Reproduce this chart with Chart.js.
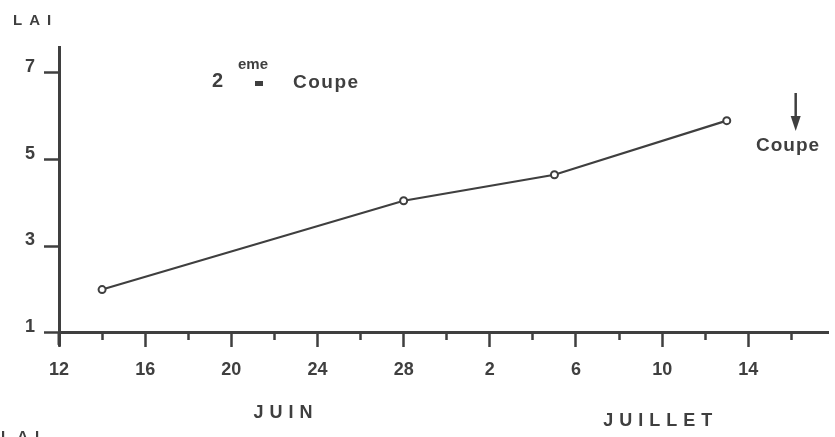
<!DOCTYPE html>
<html>
<head>
<meta charset="utf-8">
<script src="https://cdn.jsdelivr.net/npm/chart.js@4.4.0/dist/chart.umd.min.js"></script>
<style>
  html, body { margin: 0; padding: 0; background: #fff; }
</style>
</head>
<body>
<canvas id="laiChart" width="835" height="437"></canvas>
<script>
// x values are days counted from 12 June
const sampleDays = [2, 16, 23, 31];
const laiValues = [2.0, 4.05, 4.65, 5.9];
const xMajorDays = [0, 4, 8, 12, 16, 20, 24, 28, 32];
const xMajorLabels = ['12', '16', '20', '24', '28', '2', '6', '10', '14'];
const xMinorDays = [2, 6, 10, 14, 18, 22, 26, 30, 34];
const yTicks = [1, 3, 5, 7];
const months = ['JUIN', 'JUILLET'];
const monthDays = [10.4, 27.8];
const cutDay = 34.2;

const ink = '#3f3f3f';
const family = '"Liberation Sans", Arial, sans-serif';

// free text: axis name, month names, annotations
const notes = {
  id: 'notes',
  afterDraw(chart) {
    const { ctx } = chart;
    const x = chart.scales.x, y = chart.scales.y;
    const base = y.getPixelForValue(1);
    ctx.save();
    ctx.fillStyle = ink;
    ctx.strokeStyle = ink;

    // y axis line running a little below the x axis
    ctx.lineWidth = 3;
    ctx.beginPath();
    ctx.moveTo(x.getPixelForValue(0), base);
    ctx.lineTo(x.getPixelForValue(0), base + 12);
    ctx.stroke();

    ctx.textBaseline = 'middle';
    ctx.textAlign = 'left';
    ctx.font = 'bold 15px ' + family;
    ctx.letterSpacing = '7px';
    ctx.fillText('LAI', 13, 21);
    ctx.textBaseline = 'alphabetic';
    ctx.fillText('LAI', 1, 441);
    ctx.textBaseline = 'middle';

    ctx.textAlign = 'center';
    ctx.font = 'bold 18px ' + family;
    ctx.letterSpacing = '6px';
    months.forEach((m, i) => {
      ctx.fillText(m, x.getPixelForValue(monthDays[i]) + 3, base + 80 + i * 8);
    });

    // "2 eme Coupe"
    ctx.letterSpacing = '0px';
    ctx.textAlign = 'left';
    ctx.font = 'bold 20px ' + family;
    ctx.fillText('2', 212, 81);
    ctx.font = 'bold 15px ' + family;
    ctx.fillText('eme', 238, 65);
    ctx.fillRect(255, 81, 8, 5);
    ctx.font = 'bold 19px ' + family;
    ctx.letterSpacing = '1.5px';
    ctx.fillText('Coupe', 293, 83);

    // arrow + "Coupe" at cut date
    const ax = x.getPixelForValue(cutDay);
    ctx.lineWidth = 2.5;
    ctx.beginPath();
    ctx.moveTo(ax, 93);
    ctx.lineTo(ax, 120);
    ctx.stroke();
    ctx.beginPath();
    ctx.moveTo(ax - 5, 116);
    ctx.lineTo(ax + 5, 116);
    ctx.lineTo(ax, 131);
    ctx.closePath();
    ctx.fill();
    ctx.font = 'bold 19px ' + family;
    ctx.letterSpacing = '1px';
    ctx.fillText('Coupe', 756, 146);
    ctx.restore();
  }
};

new Chart(document.getElementById('laiChart'), {
  type: 'line',
  data: {
    datasets: [{
      data: sampleDays.map((d, i) => ({ x: d, y: laiValues[i] })),
      borderColor: ink,
      borderWidth: 2.2,
      pointRadius: 3.5,
      pointBorderWidth: 2,
      pointBackgroundColor: '#fff',
      pointBorderColor: ink,
      tension: 0
    }]
  },
  options: {
    responsive: false,
    animation: false,
    layout: { padding: { left: 0, right: 7, top: 47, bottom: 92 } },
    plugins: { legend: { display: false }, tooltip: { enabled: false } },
    scales: {
      x: {
        type: 'linear',
        min: 0,
        max: 35.7,
        position: { y: 1 },
        afterBuildTicks: s => { s.ticks = xMajorDays.map(v => ({ value: v })); },
        grid: { drawOnChartArea: false, drawTicks: true, tickLength: 13, tickWidth: 2.5, tickColor: ink },
        border: { color: ink, width: 3 },
        ticks: {
          color: ink,
          padding: 13,
          maxRotation: 0,
          font: { size: 18, weight: 'bold', family: family },
          callback: (v, i) => xMajorLabels[i]
        }
      },
      xm: {
        type: 'linear',
        axis: 'x',
        min: 0,
        max: 35.7,
        position: { y: 1 },
        afterBuildTicks: s => { s.ticks = xMinorDays.map(v => ({ value: v })); },
        grid: { drawOnChartArea: false, drawTicks: true, tickLength: 7, tickWidth: 2.5, tickColor: ink },
        border: { display: false },
        ticks: { display: false }
      },
      y: {
        type: 'linear',
        min: 0.72,
        max: 7.6,
        position: 'left',
        afterBuildTicks: s => { s.ticks = yTicks.map(v => ({ value: v })); },
        afterFit: s => { s.width = 59; },
        grid: { drawOnChartArea: false, drawTicks: true, tickLength: 15, tickWidth: 2.5, tickColor: ink },
        border: { color: ink, width: 3 },
        ticks: {
          color: ink,
          padding: 9,
          labelOffset: -6,
          font: { size: 18, weight: 'bold', family: family }
        }
      }
    }
  },
  plugins: [notes]
});
</script>
</body>
</html>
